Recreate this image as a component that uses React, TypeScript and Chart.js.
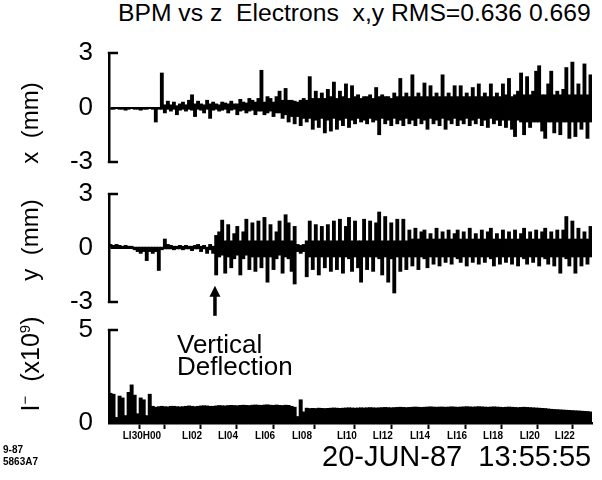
import React, { useEffect, useRef } from 'react';
import { Chart, registerables } from 'chart.js';

Chart.register(...registerables);

// ---- data (BPM index 0..159 along the linac) ----
const BPM_COUNT = 160;

// horizontal position envelope per column (mm)
const X_MAX = [
  0, 0, 0, 0, 0, 0, 0, 0, 0, 0,
  0, 0, 0, 0, 0, 0, 0, 1.9, 0.15, 0.35,
  0.15, 0.3, 0.1, 0.2, 0.3, 0.15, 0.4, 0.7, 0.2, 0.35,
  0.2, 0.15, 0.4, 0.2, 0.3, 0.2, 0.15, 0.3, 0.25, 0.2,
  0.35, 0.2, 0.2, 0.45, 0.3, 0.25, 0.5, 0.4, 0.3, 0.5,
  2.05, 0.3, 0.6, 0.5, 0.3, 0.6, 0.9, 0.4, 1.05, 0.4,
  0.4, 0.35, 0.3, 0.4, 0.5, 0.4, 1.7, 0.5, 0.9, 0.5,
  0.8, 0.5, 1.0, 0.6, 1.4, 0.5, 0.9, 0.6, 1.3, 0.5,
  1.2, 0.6, 0.7, 0.5, 0.6, 0.6, 0.7, 0.5, 1.1, 0.6,
  0.7, 0.6, 0.6, 0.5, 0.8, 0.6, 1.6, 0.6, 0.8, 0.6,
  1.8, 0.6, 0.8, 0.6, 1.35, 0.6, 1.2, 0.6, 0.8, 0.6,
  1.8, 0.6, 0.8, 0.6, 1.2, 0.6, 1.2, 0.6, 0.8, 0.6,
  1.1, 0.6, 1.3, 0.6, 0.8, 0.6, 1.3, 0.6, 0.8, 0.6,
  1.3, 0.7, 1.6, 0.6, 0.7, 0.9, 1.9, 0.7, 1.7, 0.7,
  0.9, 2.0, 2.3, 0.7, 0.7, 1.3, 2.0, 0.7, 0.9, 0.7,
  1.0, 2.2, 0.7, 2.5, 0.7, 1.3, 0.7, 2.4, 0.7, 1.8,
];
const X_MIN = [
  -0.1, -0.1, -0.05, -0.1, -0.1, -0.15, -0.1, -0.05, -0.1, -0.1,
  -0.15, -0.1, -0.1, -0.05, -0.1, -0.8, -0.1, -0.1, -0.3, -0.1,
  -0.2, -0.1, -0.4, -0.15, -0.1, -0.2, -0.1, -0.15, -0.5, -0.1,
  -0.15, -0.3, -0.1, -0.6, -0.15, -0.1, -0.2, -0.15, -0.1, -0.3,
  -0.15, -0.1, -0.4, -0.2, -0.15, -0.3, -0.2, -0.15, -0.4, -0.2,
  -0.2, -0.4, -0.3, -0.2, -0.5, -0.3, -0.3, -0.6, -0.4, -0.8,
  -0.5, -0.9, -0.5, -1.0, -0.6, -0.8, -0.6, -1.2, -0.7, -1.1,
  -0.6, -1.4, -0.7, -1.3, -0.6, -1.2, -0.7, -1.0, -0.6, -1.1,
  -0.7, -0.9, -0.6, -0.8, -0.7, -0.9, -0.6, -0.8, -0.7, -1.5,
  -0.6, -0.9, -0.7, -1.0, -0.6, -0.9, -0.7, -1.0, -0.6, -0.9,
  -0.7, -1.0, -0.6, -0.9, -0.7, -1.2, -0.6, -0.9, -0.7, -1.0,
  -0.6, -1.2, -0.7, -0.9, -0.6, -1.0, -0.7, -0.9, -0.6, -1.0,
  -0.7, -0.9, -0.6, -1.0, -0.7, -1.1, -0.6, -0.9, -0.7, -1.0,
  -0.7, -1.1, -0.7, -1.2, -1.6, -0.7, -0.8, -1.5, -0.8, -1.1,
  -0.8, -0.8, -0.8, -1.3, -1.7, -0.8, -0.8, -1.4, -0.8, -1.5,
  -0.8, -0.8, -1.7, -0.8, -1.6, -0.8, -1.2, -0.8, -1.7, -0.8,
];

// vertical position envelope per column (mm)
const Y_MAX = [
  0.2, 0.15, 0.2, 0.15, 0.1, 0.15, 0.1, 0.1, 0.05, 0.05,
  0.05, 0.05, 0.05, 0.05, 0.05, 0.05, 0.05, 0.05, 0.5, 0.2,
  0.15, 0.1, 0.1, 0.15, 0.1, 0.15, 0.1, 0.1, 0.15, 0.2,
  0.1, 0.15, 0.05, 0.2, 0.1, 0.7, 0.9, 1.55, 0.4, 1.3,
  0.4, 0.8, 1.2, 0.4, 0.9, 1.6, 0.4, 1.4, 0.4, 1.5,
  0.4, 1.7, 0.4, 1.3, 0.4, 0.9, 1.5, 0.4, 1.85, 1.4,
  0.4, 1.2, 0.2, 0.15, 0.2, 0.4, 1.5, 0.4, 1.3, 0.4,
  1.2, 0.4, 1.3, 0.4, 1.5, 0.4, 1.6, 0.4, 1.2, 1.7,
  0.4, 1.5, 0.4, 0.4, 1.6, 0.4, 1.5, 0.4, 1.4, 2.0,
  0.4, 1.75, 0.4, 1.4, 0.4, 1.6, 0.4, 1.6, 0.4, 1.0,
  0.5, 1.1, 0.5, 0.9, 1.0, 0.5, 0.8, 0.5, 1.1, 0.5,
  0.9, 0.5, 1.0, 0.5, 0.8, 1.0, 0.5, 0.9, 0.5, 1.1,
  0.5, 0.8, 0.5, 1.0, 0.5, 0.9, 1.1, 0.5, 0.8, 0.5,
  1.0, 0.5, 0.9, 0.5, 1.0, 0.5, 0.8, 1.1, 0.5, 0.9,
  0.5, 1.0, 0.5, 0.9, 1.1, 0.5, 0.9, 0.5, 1.0, 0.5,
  1.0, 1.75, 0.5, 1.5, 0.5, 1.1, 0.5, 0.9, 0.5, 1.2,
];
const Y_MIN = [
  0, 0, 0, 0, 0, 0, 0, 0, -0.1, -0.2,
  -0.3, -0.2, -0.7, -0.2, -0.3, -0.2, -1.25, -0.1, -0.05, -0.05,
  -0.05, -0.1, -0.05, -0.05, -0.1, -0.05, -0.05, -0.15, -0.05, -0.05,
  -0.2, -0.05, -0.3, -0.1, -0.3, -1.5, -0.5, -0.4, -1.4, -0.5,
  -1.1, -0.6, -0.4, -1.5, -0.6, -0.4, -1.2, -0.5, -1.3, -0.5,
  -1.1, -0.5, -1.9, -0.5, -1.2, -0.6, -0.4, -1.4, -0.5, -0.6,
  -1.3, -2.0, -0.2, -0.3, -0.2, -1.6, -0.5, -1.2, -0.5, -1.5,
  -0.5, -1.1, -0.5, -1.3, -0.5, -1.2, -0.5, -1.4, -0.5, -0.6,
  -1.3, -0.5, -1.1, -1.9, -0.5, -1.2, -0.5, -1.3, -0.5, -0.6,
  -1.5, -0.5, -1.9, -0.6, -2.5, -0.5, -1.3, -0.5, -1.2, -0.5,
  -1.0, -0.5, -1.2, -0.5, -0.6, -1.1, -0.5, -0.9, -0.5, -1.0,
  -0.5, -0.8, -0.5, -0.9, -0.5, -0.6, -0.8, -0.5, -1.0, -0.5,
  -0.8, -0.5, -0.9, -0.5, -0.8, -0.5, -0.6, -1.0, -0.5, -0.9,
  -0.5, -0.8, -0.5, -0.9, -0.5, -1.0, -0.5, -0.6, -0.9, -0.5,
  -0.8, -0.5, -1.0, -0.5, -0.6, -0.9, -0.5, -1.0, -0.5, -1.4,
  -0.5, -0.6, -1.0, -0.5, -1.4, -0.5, -1.0, -0.5, -0.9, -0.5,
];

// beam intensity (x10^9)
const CURRENT = [
  1.6, 1.55, 0.3, 1.45, 1.35, 0.4, 1.65, 2.05, 1.5, 0.5,
  1.35, 1.25, 0.4, 1.55, 0.9, 0.85, 0.88, 0.9, 0.88, 0.87,
  0.9, 0.9, 0.88, 0.87, 0.88, 0.9, 0.92, 0.9, 0.88, 0.9,
  0.92, 0.93, 0.92, 0.9, 0.9, 0.92, 0.94, 0.93, 0.92, 0.94,
  0.95, 0.94, 0.93, 0.95, 0.96, 0.95, 0.94, 0.96, 0.97, 0.96,
  0.95, 0.97, 0.98, 0.96, 0.95, 0.97, 0.95, 0.94, 0.96, 0.95,
  0.9, 0.85, 0.35, 1.25, 0.6, 0.8, 0.78, 0.79, 0.78, 0.8,
  0.79, 0.78, 0.79, 0.8, 0.81, 0.8, 0.79, 0.8, 0.81, 0.82,
  0.81, 0.8, 0.81, 0.82, 0.81, 0.82, 0.83, 0.82, 0.81, 0.82,
  0.83, 0.84, 0.83, 0.82, 0.83, 0.84, 0.85, 0.84, 0.83, 0.84,
  0.85, 0.86, 0.85, 0.84, 0.85, 0.86, 0.87, 0.86, 0.85, 0.86,
  0.86, 0.85, 0.86, 0.87, 0.86, 0.85, 0.86, 0.87, 0.88, 0.87,
  0.86, 0.87, 0.88, 0.87, 0.86, 0.85, 0.86, 0.87, 0.86, 0.85,
  0.84, 0.85, 0.86, 0.85, 0.84, 0.83, 0.84, 0.85, 0.84, 0.83,
  0.82, 0.81, 0.8, 0.79, 0.78, 0.76, 0.74, 0.73, 0.72, 0.71,
  0.7, 0.69, 0.68, 0.67, 0.66, 0.65, 0.64, 0.63, 0.62, 0.6,
];

const POS_TICKS = [-3, 0, 3];
const CUR_TICKS = [0, 5];
const SECTOR_TICK_POS = [7.6, 12.6, 24.2, 36.1, 48.4, 60.6, 75.5, 87.4, 99.7, 112.0, 123.9, 136.1, 147.7, 159.3];
const SECTOR_LABELS = ['LI30H00', '', 'LI02', 'LI04', 'LI06', 'LI08', 'LI10', 'LI12', 'LI14', 'LI16', 'LI18', 'LI20', 'LI22', ''];
const DEFLECTION_BPM = 35.1;

const FONT = "'Liberation Sans', Arial, Helvetica, sans-serif";
const PLOT_LEFT = 109;

const bracketPlugin = {
  id: 'bracket',
  afterDraw(chart: any, _args: any, opts: any) {
    const { ctx, chartArea, scales } = chart;
    const y = scales.y;
    ctx.save();
    ctx.strokeStyle = '#000';
    ctx.lineWidth = 2.5;
    (opts.caps || []).forEach((v: number) => {
      const py = y.getPixelForValue(v);
      ctx.beginPath();
      ctx.moveTo(chartArea.left - 1.2, py);
      ctx.lineTo(chartArea.left + 9, py);
      ctx.stroke();
    });
    ctx.restore();
  },
};

const arrowPlugin = {
  id: 'deflArrow',
  afterDraw(chart: any, _args: any, opts: any) {
    if (opts.at == null) return;
    const { ctx, scales } = chart;
    const x = scales.x.getPixelForValue(opts.at);
    const tip = scales.y.getPixelForValue(opts.tip);
    ctx.save();
    ctx.fillStyle = '#000';
    ctx.strokeStyle = '#000';
    ctx.lineWidth = 3.5;
    ctx.beginPath();
    ctx.moveTo(x, tip + 8);
    ctx.lineTo(x, tip + opts.length);
    ctx.stroke();
    ctx.beginPath();
    ctx.moveTo(x, tip);
    ctx.lineTo(x - 5.5, tip + 11);
    ctx.lineTo(x + 5.5, tip + 11);
    ctx.closePath();
    ctx.fill();
    ctx.restore();
  },
};

function yScale(min: number, max: number, ticks: number[]) {
  return {
    min,
    max,
    afterBuildTicks: (s: any) => {
      s.ticks = ticks.map((v) => ({ value: v }));
    },
    afterFit: (s: any) => {
      s.width = PLOT_LEFT;
      s.paddingTop = 0;
      s.paddingBottom = 0;
    },
    border: { display: true, color: '#000', width: 2.5 },
    grid: {
      drawTicks: false,
      lineWidth: 2,
      color: (c: any) => (c.tick && c.tick.value === 0 ? '#000' : 'rgba(0,0,0,0)'),
    },
    ticks: { color: '#000', padding: 16, font: { family: FONT, size: 26 } },
  };
}

const hiddenX = { type: 'linear', min: 0, max: BPM_COUNT, offset: false, display: false };

function envelopeConfig(hi: number[], lo: number[], arrow: any) {
  return {
    type: 'bar',
    data: {
      datasets: [
        {
          data: hi.map((h, i) => ({ x: i + 0.5, y: [lo[i], h] })),
          backgroundColor: '#000',
          borderWidth: 0,
          barThickness: 3.2,
        },
      ],
    },
    options: {
      animation: false,
      responsive: false,
      events: [],
      layout: { padding: { top: 20, bottom: 20, left: 0, right: 10 } },
      plugins: {
        legend: { display: false },
        tooltip: { enabled: false },
        bracket: { caps: [3, -3] },
        deflArrow: arrow,
      },
      scales: { x: hiddenX, y: yScale(-3, 3, POS_TICKS) },
    },
    plugins: [bracketPlugin, arrowPlugin],
  };
}

function currentConfig() {
  return {
    type: 'bar',
    data: {
      datasets: [
        {
          data: CURRENT.map((v, i) => ({ x: i + 0.5, y: v })),
          backgroundColor: '#000',
          borderWidth: 0,
          barThickness: 3.3,
        },
      ],
    },
    options: {
      animation: false,
      responsive: false,
      events: [],
      layout: { padding: { top: 20, bottom: 0, left: 0, right: 10 } },
      plugins: {
        legend: { display: false },
        tooltip: { enabled: false },
        bracket: { caps: [5] },
        deflArrow: {},
      },
      scales: {
        x: {
          type: 'linear',
          min: 0,
          max: BPM_COUNT,
          offset: false,
          afterBuildTicks: (s: any) => {
            s.ticks = SECTOR_TICK_POS.map((v) => ({ value: v }));
          },
          afterFit: (s: any) => {
            s.height = 24;
            s.paddingLeft = 0;
            s.paddingRight = 0;
          },
          border: { display: true, color: '#000', width: 2.5 },
          grid: {
            drawOnChartArea: false,
            drawTicks: true,
            tickLength: 6,
            tickWidth: 2,
            tickColor: (c: any) => (c.index === 0 ? 'rgba(0,0,0,0)' : '#000'),
          },
          ticks: {
            autoSkip: false,
            maxRotation: 0,
            minRotation: 0,
            labelOffset: 10,
            padding: 1,
            color: '#000',
            font: { family: FONT, size: 10, weight: 'bold' },
            callback: (_v: any, i: number) => SECTOR_LABELS[i],
          },
        },
        y: yScale(0, 5, CUR_TICKS),
      },
    },
    plugins: [bracketPlugin, arrowPlugin],
  };
}

function ChartCanvas({ top, height, build }: { top: number; height: number; build: () => any }) {
  const ref = useRef<HTMLCanvasElement>(null);
  useEffect(() => {
    const chart = new Chart(ref.current as HTMLCanvasElement, build());
    return () => chart.destroy();
  }, []);
  return (
    <canvas
      ref={ref}
      width={602}
      height={height}
      style={{ position: 'absolute', left: 0, top, width: 602, height }}
    />
  );
}

function VText({ cx, cy, size, children }: { cx: number; cy: number; size: number; children: any }) {
  return (
    <div
      style={{
        position: 'absolute',
        left: cx,
        top: cy,
        transform: 'translate(-50%, -50%) rotate(-90deg)',
        whiteSpace: 'pre',
        fontFamily: FONT,
        fontSize: size,
        lineHeight: 1,
        color: '#000',
      }}
    >
      {children}
    </div>
  );
}

export default function App() {
  const text = { position: 'absolute' as const, fontFamily: FONT, color: '#000', whiteSpace: 'pre' as const };
  return (
    <div style={{ position: 'fixed', left: 0, top: 0, width: 602, height: 480, background: '#fff', overflow: 'hidden' }}>
      <div style={{ ...text, left: 118, top: 0, fontSize: 24.7, lineHeight: '25px' }}>
        {'BPM vs z  Electrons  x,y RMS=0.636 0.669'}
      </div>
      <ChartCanvas top={33} height={149} build={() => envelopeConfig(X_MAX, X_MIN, {})} />
      <ChartCanvas
        top={174}
        height={148}
        build={() => envelopeConfig(Y_MAX, Y_MIN, { at: DEFLECTION_BPM, tip: -2.1, length: 30 })}
      />
      <ChartCanvas top={310} height={137} build={currentConfig} />
      <VText cx={30} cy={123} size={24}>{'x  (mm)'}</VText>
      <VText cx={30} cy={240} size={24}>{'y  (mm)'}</VText>
      <VText cx={30} cy={364} size={25}>
        <span>I</span>
        <sup style={{ fontSize: 15 }}>−</sup>
        <span>{'  (x10'}</span>
        <sup style={{ fontSize: 15 }}>9</sup>
        <span>)</span>
      </VText>
      <div style={{ ...text, left: 177, top: 333, fontSize: 26, lineHeight: '22px' }}>{'Vertical\nDeflection'}</div>
      <div style={{ ...text, left: 3, top: 444, fontSize: 10, lineHeight: '12px', fontWeight: 'bold' }}>{'9-87\n5863A7'}</div>
      <div style={{ ...text, left: 322, top: 442, fontSize: 29, lineHeight: '29px' }}>{'20-JUN-87  13:55:55'}</div>
    </div>
  );
}
